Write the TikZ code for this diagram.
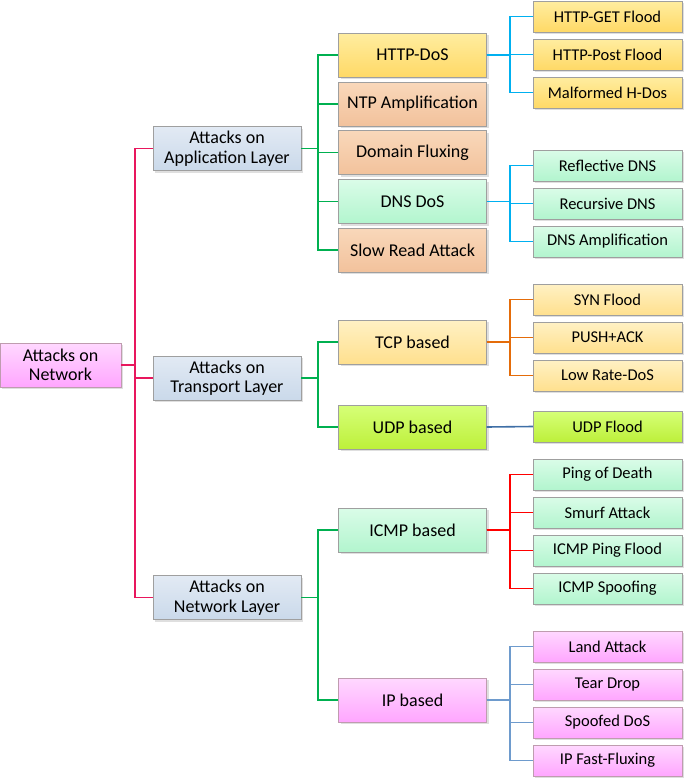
\documentclass[tikz,border=0pt]{standalone}
\usepackage{fontspec}
\setmainfont{Carlito}
\usepackage{tikz}
\usetikzlibrary{shadows}
\definecolor{rootline}{HTML}{E8175D}
\definecolor{layerline}{HTML}{00B050}
\definecolor{httpline}{HTML}{00B0F0}
\definecolor{tcpline}{HTML}{E46C0A}
\definecolor{udpline}{HTML}{3F6FA6}
\definecolor{icmpline}{HTML}{FF0000}
\definecolor{ipline}{HTML}{6E9BCD}
\definecolor{pinktop}{HTML}{FFD8FF}
\definecolor{pinkbot}{HTML}{FFA6FF}
\definecolor{bluetop}{HTML}{E2EAF4}
\definecolor{bluebot}{HTML}{CAD9EA}
\definecolor{yellowtop}{HTML}{FFEDA0}
\definecolor{yellowbot}{HTML}{FFD966}
\definecolor{paletop}{HTML}{FFF1C4}
\definecolor{palebot}{HTML}{FFE08E}
\definecolor{peachtop}{HTML}{F9D8BA}
\definecolor{peachbot}{HTML}{F2C29C}
\definecolor{minttop}{HTML}{DAFCE8}
\definecolor{mintbot}{HTML}{B2F5CE}
\definecolor{limetop}{HTML}{D6FF78}
\definecolor{limebot}{HTML}{BDF03A}

\begin{document}
\begin{tikzpicture}[
  x=1pt, y=-1pt,
  box/.style={rectangle, thin, align=center, inner sep=1pt, draw=gray!75,
    drop shadow={shadow xshift=2pt, shadow yshift=-2pt, opacity=0.25}},
  big/.style={box, minimum width=148pt, minimum height=44pt, font=\fontsize{18}{19.5}\selectfont},
  small/.style={box, minimum width=149pt, minimum height=31pt, font=\fontsize{16.5}{18}\selectfont},
  pinkbox/.style={top color=pinktop, bottom color=pinkbot, draw=magenta!25!gray!75},
  bluebox/.style={top color=bluetop, bottom color=bluebot},
  yellowbox/.style={top color=yellowtop, bottom color=yellowbot},
  paleyellow/.style={top color=paletop, bottom color=palebot},
  peachbox/.style={top color=peachtop, bottom color=peachbot},
  mintbox/.style={top color=minttop, bottom color=mintbot},
  limebox/.style={top color=limetop, bottom color=limebot},
  link/.style={line width=1.6pt}
]
\useasboundingbox (0,0) rectangle (685,779);

% root and layers
\node[big, pinkbox, minimum width=121pt] (net) at (60.5,365) {Attacks on\\Network};
\node[big, bluebox] (app) at (227,148.5) {Attacks on\\Application Layer};
\node[big, bluebox] (trans) at (227,378) {Attacks on\\Transport Layer};
\node[big, bluebox] (netl) at (227,597.5) {Attacks on\\Network Layer};

% second level
\node[big, yellowbox] (http) at (412.5,55) {HTTP-DoS};
\node[big, peachbox] (ntp) at (412.5,104) {NTP Amplification};
\node[big, peachbox] (flux) at (412.5,152.5) {Domain Fluxing};
\node[big, mintbox] (dns) at (412.5,201.5) {DNS DoS};
\node[big, peachbox] (slow) at (412.5,250) {Slow Read Attack};
\node[big, paleyellow] (tcp) at (412.5,342) {TCP based};
\node[big, limebox] (udp) at (412.5,427) {UDP based};
\node[big, mintbox] (icmp) at (412.5,530) {ICMP based};
\node[big, pinkbox] (ip) at (412.5,700) {IP based};

% leaves
\node[small, yellowbox] (get) at (607.5,16.5) {HTTP-GET Flood};
\node[small, yellowbox] (post) at (607.5,54.5) {HTTP-Post Flood};
\node[small, yellowbox] (hdos) at (607.5,92.5) {Malformed H-Dos};
\node[small, mintbox] (refl) at (607.5,165.5) {Reflective DNS};
\node[small, mintbox] (recu) at (607.5,203.5) {Recursive DNS};
\node[small, mintbox] (damp) at (607.5,241.5) {DNS Amplification};
\node[small, paleyellow] (syn) at (607.5,299.5) {SYN Flood};
\node[small, paleyellow] (push) at (607.5,337.5) {PUSH+ACK};
\node[small, paleyellow] (lowr) at (607.5,375.5) {Low Rate-DoS};
\node[small, limebox] (udpf) at (607.5,426.5) {UDP Flood};
\node[small, mintbox] (ping) at (607.5,474.5) {Ping of Death};
\node[small, mintbox] (smurf) at (607.5,512.5) {Smurf Attack};
\node[small, mintbox] (ipf) at (607.5,550.5) {ICMP Ping Flood};
\node[small, mintbox] (spoof) at (607.5,588.5) {ICMP Spoofing};
\node[small, pinkbox] (land) at (607.5,646.5) {Land Attack};
\node[small, pinkbox] (tear) at (607.5,684.5) {Tear Drop};
\node[small, pinkbox] (sdos) at (607.5,722.5) {Spoofed DoS};
\node[small, pinkbox] (fast) at (607.5,760.5) {IP Fast-Fluxing};

% connectors
\foreach \c in {app,trans,netl}
  \draw[link, rootline] (net.east) -- ++(14,0) |- (\c.west);
\foreach \c in {http,ntp,flux,dns,slow}
  \draw[link, layerline] (app.east) -- ++(17,0) |- (\c.west);
\foreach \c in {tcp,udp}
  \draw[link, layerline] (trans.east) -- ++(17,0) |- (\c.west);
\foreach \c in {icmp,ip}
  \draw[link, layerline] (netl.east) -- ++(17,0) |- (\c.west);
\foreach \c in {get,post,hdos}
  \draw[link, httpline] (http.east) -- ++(23,0) |- (\c.west);
\foreach \c in {refl,recu,damp}
  \draw[link, httpline] (dns.east) -- ++(23,0) |- (\c.west);
\foreach \c in {syn,push,lowr}
  \draw[link, tcpline] (tcp.east) -- ++(23,0) |- (\c.west);
\draw[link, udpline] (udp.east) -- (udpf.west);
\foreach \c in {ping,smurf,ipf,spoof}
  \draw[link, icmpline] (icmp.east) -- ++(23,0) |- (\c.west);
\foreach \c in {land,tear,sdos,fast}
  \draw[link, ipline] (ip.east) -- ++(23,0) |- (\c.west);
\end{tikzpicture}
\end{document}
